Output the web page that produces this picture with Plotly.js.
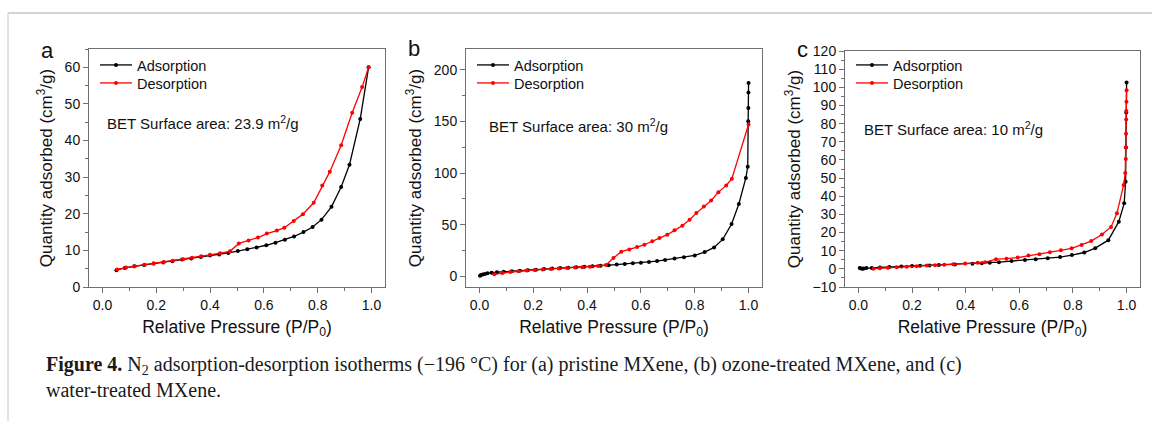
<!DOCTYPE html>
<html>
<head>
<meta charset="utf-8">
<script src="https://cdn.plot.ly/plotly-3.0.1.min.js"></script>
<style>
html,body{margin:0;padding:0;background:#fff;}
#chart{width:1152px;height:421px;}
</style>
</head>
<body>
<div id="chart"></div>
<script>
// ---------- data ----------
const panelLetters = ["a", "b", "c"];
const seriesNames = ["Adsorption", "Desorption"];
const betTexts = ["BET Surface area: 23.9 m<sup>2</sup>/g", "BET Surface area: 30 m<sup>2</sup>/g", "BET Surface area: 10 m<sup>2</sup>/g"];
const xTitle = "Relative Pressure (P/P<sub>0</sub>)";
const yTitle = "Quantity adsorbed (cm<sup>3</sup>/g)";
const caption1 = "<b>Figure 4.</b> N<sub>2</sub> adsorption-desorption isotherms (\u2212196 \u00b0C) for (a) pristine MXene, (b) ozone-treated MXene, and (c)";
const caption2 = "water-treated MXene.";

// panel a
const aAdsX = [0.052,0.083,0.118,0.155,0.19,0.226,0.26,0.296,0.33,0.366,0.40,0.434,0.468,0.503,0.538,0.573,0.609,0.643,0.678,0.712,0.747,0.781,0.814,0.851,0.887,0.918,0.958,0.989];
const aAdsY = [4.6,5.2,5.65,6.0,6.4,6.7,7.0,7.5,7.8,8.2,8.6,8.9,9.3,9.8,10.3,10.8,11.4,12.1,12.9,13.8,15.0,16.4,18.4,21.9,27.3,33.4,45.9,60.0];
const aDesX = [0.989,0.965,0.928,0.887,0.845,0.817,0.785,0.745,0.711,0.676,0.648,0.611,0.578,0.543,0.507,0.474,0.437,0.40,0.367,0.333,0.30,0.262,0.228,0.19,0.157,0.12,0.088,0.055];
const aDesY = [60.0,54.6,47.6,38.7,31.5,27.7,23.0,19.9,18.0,16.2,15.4,14.6,13.5,12.7,11.9,9.75,9.2,8.8,8.4,8.0,7.6,7.2,6.8,6.4,6.1,5.7,5.3,4.8];

// panel b
const bAdsX = [0.002,0.006,0.012,0.02,0.03,0.045,0.065,0.09,0.12,0.15,0.18,0.21,0.24,0.27,0.30,0.33,0.36,0.39,0.42,0.45,0.48,0.51,0.54,0.57,0.60,0.63,0.66,0.69,0.725,0.76,0.80,0.837,0.872,0.904,0.937,0.964,0.99,0.997,0.999,0.9993,0.9996,1.0];
const bAdsY = [0.5,1.2,1.8,2.4,3.0,3.5,4.0,4.5,5.0,5.5,6.0,6.5,7.0,7.5,8.0,8.4,8.8,9.3,9.8,10.3,10.8,11.4,12.0,12.6,13.2,13.9,14.8,15.9,17.2,18.6,20.3,23.5,28.0,35.8,50.6,70.0,95.2,106,150,163,178,187];
const bDesX = [1.0,0.938,0.917,0.888,0.861,0.834,0.806,0.781,0.754,0.725,0.698,0.669,0.642,0.613,0.586,0.557,0.527,0.498,0.47,0.441,0.411,0.382,0.355,0.325,0.295,0.265,0.235,0.205,0.175,0.145,0.115,0.085,0.055];
const bDesY = [147,94.5,88,81.5,73.4,67.7,61.2,54.8,49,44.5,40.3,37,33.9,30.6,28.4,26.1,23.9,17.8,11.0,10.0,9.4,8.9,8.5,8.0,7.6,7.2,6.7,6.2,5.7,5.0,4.2,3.2,2.0];

// panel c
const cAdsX = [0.005,0.01,0.015,0.02,0.03,0.05,0.08,0.115,0.16,0.2,0.23,0.265,0.3,0.36,0.425,0.46,0.49,0.524,0.571,0.621,0.661,0.706,0.752,0.796,0.842,0.883,0.932,0.971,0.991,0.9963,0.9975,0.9988,1.0];
const cAdsY = [0.5,0.2,0.1,0.2,0.4,0.5,0.8,1.0,1.3,1.5,1.7,1.9,2.1,2.4,2.8,3.1,3.4,3.7,4.3,4.9,5.3,5.8,6.5,7.6,9.0,11.4,15.8,26.0,36.1,48,66.9,86.1,102.6];
const cDesX = [1.0,0.9995,0.999,0.9985,0.998,0.9975,0.997,0.995,0.989,0.964,0.942,0.908,0.868,0.832,0.795,0.755,0.714,0.675,0.634,0.594,0.552,0.513,0.472,0.445,0.398,0.354,0.32,0.286,0.255,0.217,0.18,0.143,0.11,0.08,0.056];
const cDesY = [98.4,92,87,82.3,74.4,66.9,60.5,52.8,46.2,30.6,23.1,18.9,15.3,13.2,11.3,10.2,9.2,8.0,7.3,6.2,5.6,5.3,3.6,3.3,3.0,2.5,2.2,2.0,1.8,1.4,1.2,0.9,0.6,0.3,0.1];

const yRanges = [[0,65],[-10.3,220],[-10,120]];
const yDticks = [10,50,10];
const yMinor = [5,25,5];

// ---------- layout helpers ----------
const W = 1152, H = 421;
const px = v => v / W;
const py = v => 1 - v / H;
const FONT = "Liberation Sans, Arial, sans-serif";
const AX = "#6f6f6f";
const colors = ["#000000", "#ff0000"];

// plot boxes in pixels: [left, right, top, bottom]
const boxes = [[89,385,49,287],[466,762,49,287],[845,1140,51,287]];
const legendTop = 49;

const sets = [[aAdsX,aAdsY,aDesX,aDesY],[bAdsX,bAdsY,bDesX,bDesY],[cAdsX,cAdsY,cDesX,cDesY]];
const traces = [];
const legendDefs = {};
let lgIdx = 0;
sets.forEach((s, i) => {
  const sfx = i === 0 ? "" : String(i + 1);
  for (let k = 0; k < 2; k++) {
    lgIdx++;
    const lname = lgIdx === 1 ? "legend" : "legend" + lgIdx;
    traces.push({
      x: s[2*k], y: s[2*k+1], type: "scatter", mode: "lines+markers",
      name: seriesNames[k], xaxis: "x" + sfx, yaxis: "y" + sfx,
      legend: lname,
      line: {color: colors[k], width: 1.3},
      marker: {color: colors[k], size: 4, symbol: "circle"},
      hoverinfo: "skip"
    });
    legendDefs[lname] = {
      x: px(boxes[i][0] + 6), y: py(legendTop + k * 18), xanchor: "left", yanchor: "top",
      bgcolor: "rgba(0,0,0,0)", borderwidth: 0,
      font: {family: FONT, size: 14.5, color: "#111"},
      itemwidth: 32
    };
  }
});

const layout = Object.assign({
  width: W, height: H,
  margin: {l:0, r:0, t:0, b:0},
  paper_bgcolor: "#fff", plot_bgcolor: "#fff",
  font: {family: FONT, color: "#111"},
  showlegend: true,
  annotations: [],
  shapes: [
    {type:"line", xref:"paper", yref:"paper", x0:px(8), x1:1, y0:py(13), y1:py(13), line:{color:"#a8a8a8", width:1}},
    {type:"line", xref:"paper", yref:"paper", x0:px(8), x1:px(8), y0:py(13), y1:0, line:{color:"#c8c8c8", width:1}}
  ]
}, legendDefs);

boxes.forEach((b, i) => {
  const sfx = i === 0 ? "" : String(i + 1);
  layout["xaxis" + sfx] = {
    domain: [px(b[0]), px(b[1])], anchor: "y" + sfx,
    range: [-0.05, 1.05], dtick: 0.2, tick0: 0, tickformat: ".1f",
    showline: true, mirror: true, linecolor: AX, linewidth: 1,
    ticks: "outside", ticklen: 5, tickcolor: AX, tickwidth: 1,
    minor: {dtick: 0.1, ticks: "outside", ticklen: 3, tickcolor: AX},
    showgrid: false, zeroline: false,
    tickfont: {family: FONT, size: 14, color: "#111"},
    title: {text: xTitle, font: {family: FONT, size: 17.5, color: "#111"}, standoff: 8}
  };
  layout["yaxis" + sfx] = {
    domain: [py(b[3]), py(b[2])], anchor: "x" + sfx,
    range: yRanges[i], dtick: yDticks[i], tick0: 0,
    showline: true, mirror: true, linecolor: AX, linewidth: 1,
    ticks: "outside", ticklen: 5, tickcolor: AX, tickwidth: 1,
    minor: {dtick: yMinor[i], ticks: "outside", ticklen: 3, tickcolor: AX},
    showgrid: false, zeroline: false,
    tickfont: {family: FONT, size: 14, color: "#111"},
    title: {text: yTitle, font: {family: FONT, size: 17, color: "#111"}, standoff: 7}
  };
});

// BET text positions (pixel): left x, center y
const betPos = [[105,123],[487,125],[862,128]];
betTexts.forEach((t, i) => {
  layout.annotations.push({
    text: t, xref: "paper", yref: "paper", x: px(betPos[i][0]), y: py(betPos[i][1]),
    xanchor: "left", yanchor: "middle", showarrow: false,
    font: {family: FONT, size: 15, color: "#111"}
  });
});
// panel letters
const letterPos = [[47,51],[414,48],[802,50]];
panelLetters.forEach((t, i) => {
  layout.annotations.push({
    text: t, xref: "paper", yref: "paper", x: px(letterPos[i][0]), y: py(letterPos[i][1]),
    xanchor: "center", yanchor: "middle", showarrow: false,
    font: {family: FONT, size: 22, color: "#111"}
  });
});
// caption
const capFont = {family: "Liberation Serif, Times New Roman, serif", size: 20, color: "#1a1a1a"};
layout.annotations.push({
  text: caption1, xref: "paper", yref: "paper", x: px(44), y: py(365),
  xanchor: "left", yanchor: "middle", showarrow: false, font: capFont
});
layout.annotations.push({
  text: caption2, xref: "paper", yref: "paper", x: px(44), y: py(390),
  xanchor: "left", yanchor: "middle", showarrow: false, font: capFont
});

Plotly.newPlot("chart", traces, layout, {displayModeBar: false, staticPlot: true});
</script>
</body>
</html>
